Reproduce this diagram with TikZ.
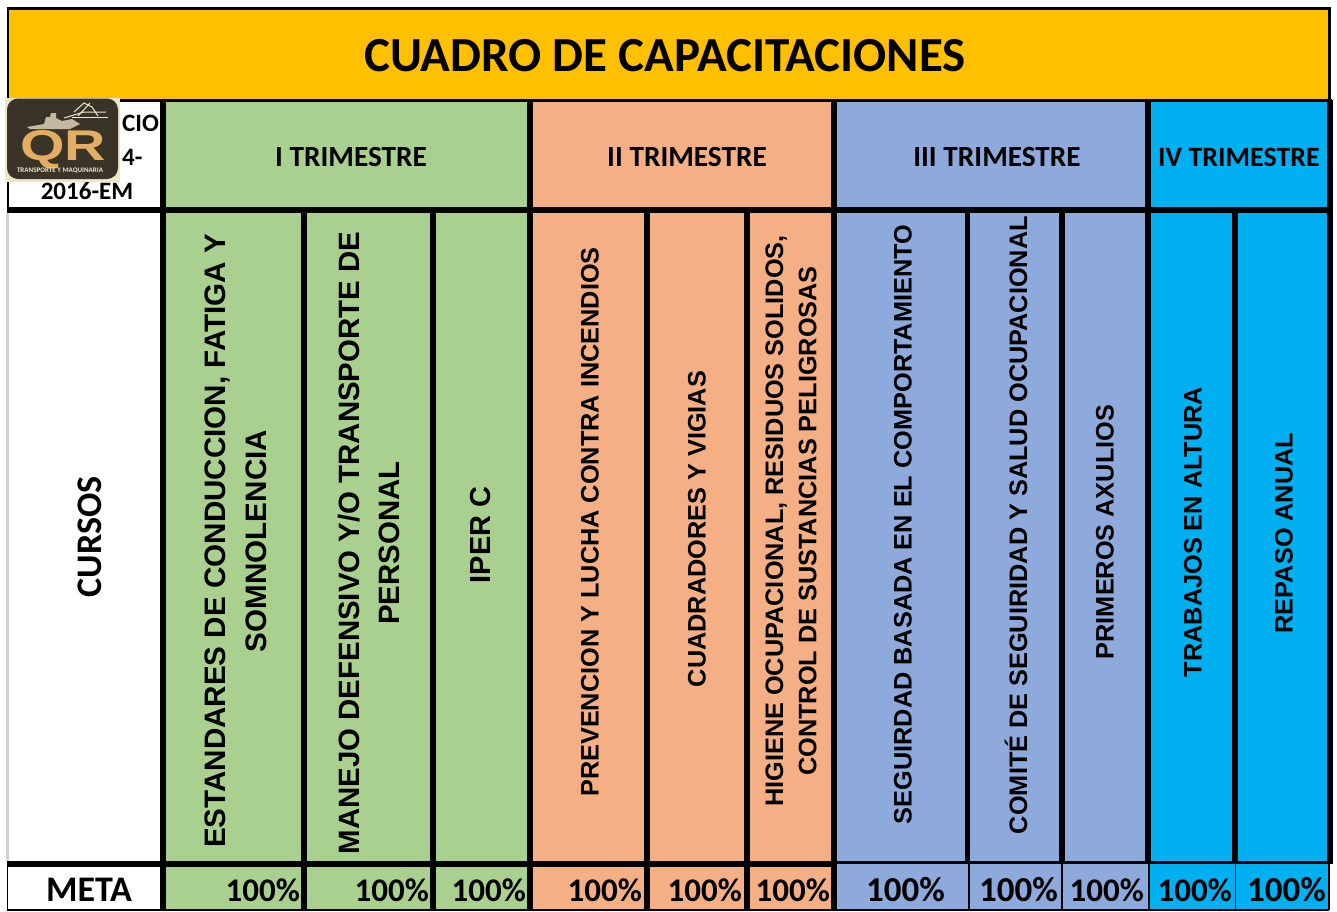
\documentclass[tikz,border=0pt]{standalone}
\usepackage{fontspec}
\setmainfont{Carlito}
\newfontfamily\arialf{Liberation Sans}
\definecolor{gold}{HTML}{FFC000}
\definecolor{grn}{HTML}{A9D08E}
\definecolor{org}{HTML}{F4B084}
\definecolor{blu}{HTML}{8EA9DB}
\definecolor{cya}{HTML}{00B0F0}
\definecolor{logod}{HTML}{3A3328}
\definecolor{logot}{HTML}{E3AE62}
\definecolor{logoc}{HTML}{EFE6C8}
\tikzset{
  x=1pt,y=-1pt,
  hdr/.style={font=\bfseries\fontsize{29.3}{29.3}\selectfont,inner sep=0pt},
  code/.style={font=\bfseries\fontsize{25}{25}\selectfont,inner sep=0pt},
  meta/.style={font=\bfseries\fontsize{33}{33}\selectfont,inner sep=0pt,anchor=east},
  metab/.style={font=\bfseries\fontsize{35}{35}\selectfont,inner sep=0pt,anchor=east},
  course/.style={font=\arialf\bfseries\fontsize{#1}{#1}\selectfont,rotate=90,align=center,inner sep=0pt},
  grid/.style={line width=#1,draw=black},
  dozer/.style={draw=logoc,line width=1pt},
}
\begin{document}
\begin{tikzpicture}
\useasboundingbox (0,0) rectangle (1337,911);
\fill[white] (0,0) rectangle (1337,911);
% fills
\fill[gold] (8,9) rectangle (1329,100);
\fill[grn] (163,100) rectangle (530,909);
\fill[org] (530,100) rectangle (834,909);
\fill[blu] (834,100) rectangle (1148,909);
\fill[cya] (1148,100) rectangle (1329,909);
% grid
\draw[grid=2.7pt] (8,8.3) -- (1329.5,8.3) -- (1329.5,100);
\draw[grid=2.7pt] (8,7) -- (8,213);
\draw[draw=black!18,line width=3pt] (7.5,213) -- (7.5,861);
\draw[grid=1.5pt] (7.7,861) -- (7.7,910);
\draw[grid=3pt] (7,100) -- (1332,100);
\draw[grid=5.6pt] (7,210) -- (1333,210);
\draw[grid=3pt] (7,862.5) -- (1333,862.5);
\draw[grid=6pt] (7,864) -- (834,864);
\draw[grid=1.5pt] (7,910) -- (1329,910);
\draw[grid=5.7pt] (1330,100) -- (1330,864);
\draw[grid=1.2pt] (1329,864) -- (1329,910);
\foreach \x in {163,530,747,647,433,304}
  \draw[grid=5.6pt] (\x,207) -- (\x,910);
\foreach \x in {163,530,834,1148}
  \draw[grid=5.6pt] (\x,100) -- (\x,213);
\draw[grid=5.2pt] (834,100) -- (834,910);
\foreach \x in {967.7,1062,1148,1235}
  \draw[grid=5.5pt] (\x,207) -- (\x,864);
\foreach \x/\wa in {968.5/2,1062/1.6,1148.6/2,1235.5/1.6}
  \draw[grid=\wa pt] (\x,864) -- (\x,910);
% title and headers
\node[font=\bfseries\fontsize{49}{49}\selectfont,inner sep=0pt] (title) at (665,56) {CUADRO DE CAPACITACIONES};
\node[hdr] (t1) at (351,157) {I TRIMESTRE};
\node[hdr] (t2) at (687,157) {II TRIMESTRE};
\node[hdr] (t3) at (997,157) {III TRIMESTRE};
\node[hdr,font=\bfseries\fontsize{28}{28}\selectfont] (t4) at (1239,157) {IV TRIMESTRE};
% code cell
\node[code,anchor=west] (c1) at (122,123) {CIO};
\node[code,anchor=west] (c2) at (122,157) {4-};
\node[code] (c3) at (87,191) {2016-EM};
% logo
\fill[logoc] (5,98) rectangle (120,182);
\fill[logod,rounded corners=11pt] (7,98.5) rectangle (118,179);
\fill[logoc!75!logod] (27,127) -- (44,124) -- (46,117) -- (50,117) -- (51,113) -- (56,113) -- (56,118) -- (62,121) -- (72,119) -- (80,124) -- (70,129) -- (30,129) -- cycle;
\draw[dozer] (72,117) -- (108,117);
\draw[dozer] (74,112) -- (84,103) -- (92,107) -- (98,116);
\draw[dozer] (78,116) -- (90,103);
\draw[dozer] (64,118) -- (84,112) -- (106,112);
\node[inner sep=0pt,anchor=base,text=logot,font=\arialf\bfseries\fontsize{43}{43}\selectfont] (logoqr) at (63,160) {\scalebox{1.33}[1]{QR}};
\node[inner sep=0pt,text=logoc,font=\bfseries\fontsize{7}{7}\selectfont] (logotx) at (60,170.5) {TRANSPORTE Y MAQUINARIA};
% courses
\node[font=\bfseries\fontsize{36}{36}\selectfont,rotate=90,inner sep=0pt] (cursos) at (90,537) {CURSOS};
\node[course=29.6] (k1) at (236,541) {ESTANDARES DE CONDUCCION, FATIGA Y\\[11pt]SOMNOLENCIA};
\node[course=29.4] (k2) at (369,543) {MANEJO DEFENSIVO Y/O TRANSPORTE DE\\[11pt]PERSONAL};
\node[course=29] (k3) at (481,535) {IPER C};
\node[course=25.3] (k4) at (590,522) {PREVENCION Y LUCHA CONTRA INCENDIOS};
\node[course=25.3] (k5) at (697,529) {CUADRADORES Y VIGIAS};
\node[course=25.3] (k6) at (791,521) {HIGIENE OCUPACIONAL, RESIDUOS SOLIDOS,\\[8pt]CONTROL DE SUSTANCIAS PELIGROSAS};
\node[course=25.3] (k7) at (903,524.5) {SEGUIRDAD BASADA EN EL COMPORTAMIENTO};
\node[course=25.3] (k8) at (1016,525) {COMITÉ DE SEGUIRIDAD Y SALUD OCUPACIONAL};
\node[course=25.3] (k9) at (1105,532) {PRIMEROS AXULIOS};
\node[course=25.3] (k10) at (1193,532) {TRABAJOS EN ALTURA};
\node[course=25.3] (k11) at (1284,533) {REPASO ANUAL};
% meta
\node[font=\bfseries\fontsize{36}{36}\selectfont,inner sep=0pt] (m0) at (89,890) {META};
\foreach \n/\x in {1/300,2/429,3/526,4/642,5/742,6/830,9/1144,10/1232}
  \node[meta] (m\n) at (\x,890) {100\%};
\node[metab] (m7) at (945,890) {100\%};
\node[metab] (m8) at (1058,890) {100\%};
\node[metab] (m11) at (1326,890) {100\%};
\end{tikzpicture}
\end{document}
